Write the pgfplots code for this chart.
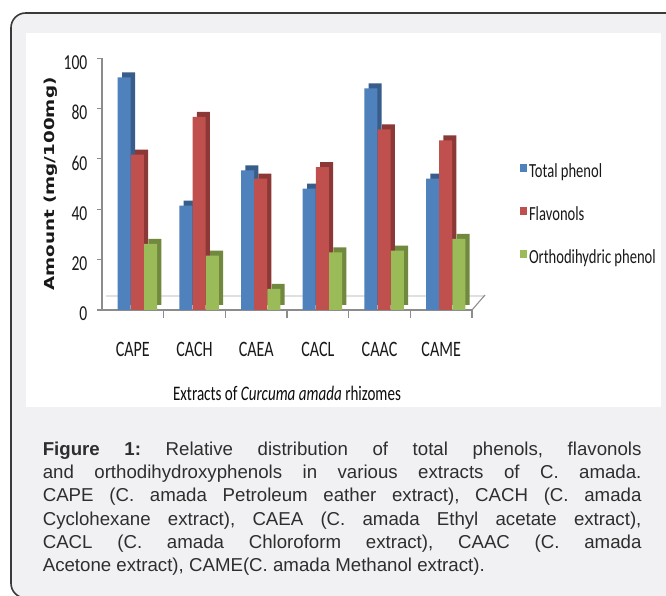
\documentclass[border=0pt]{standalone}
\usepackage{pgfplots}
\pgfplotsset{compat=1.18}
\usepackage{pgfplotstable}
\usepackage{graphicx}
\usepackage{fontspec}
\setmainfont{Liberation Sans}
\newfontfamily\cond[FakeStretch=0.73]{Carlito}
\newfontfamily\dvs{DejaVu Sans}

\definecolor{tpblue}{HTML}{4F81BD}
\definecolor{tpbluedk}{HTML}{385D8A}
\definecolor{flred}{HTML}{C0504D}
\definecolor{flreddk}{HTML}{8C3836}
\definecolor{odgreen}{HTML}{9BBB59}
\definecolor{odgreendk}{HTML}{71893F}
\definecolor{boxgray}{HTML}{F1F1F3}
\definecolor{boxline}{HTML}{3A3A3A}
\definecolor{axgray}{HTML}{8C8C8C}
\definecolor{captext}{HTML}{2E2E2E}

% values read off the front faces of the 3D columns
\pgfplotstableread{
x  tp    fl    od
0  92.4  61.7  26.3
1  41.5  76.7  21.6
2  55.5  52.2  8.4
3  48.2  56.8  22.9
4  88.0  71.7  23.6
5  52.2  67.4  28.3
}\extracts

\begin{document}
\begin{tikzpicture}
\useasboundingbox (0,0) rectangle (499.5pt,446.25pt);
\fill[white] (0,0) rectangle (499.5pt,446.25pt);

% frame, white chart area and the floor of the 3D chart (pixel units, y down)
\begin{scope}[x=0.75pt, y=-0.75pt, shift={(0pt,446.25pt)}]
  \filldraw[fill=boxgray, draw=boxline, line width=1.2pt, rounded corners=11pt]
    (11,13) rectangle (720,598);
  \fill[white] (26,33) rectangle (661,407);
  \draw[black!12, line width=0.8pt] (106,296) -- (485,296);
  \draw[axgray, line width=0.8pt] (472,310) -- (485,295);
\end{scope}

\begin{axis}[
  at={(76.5pt,213.75pt)}, anchor=south west,
  scale only axis, width=277.5pt, height=188.8pt,
  xmin=-0.5, xmax=5.5, ymin=0, ymax=100,
  ybar, bar width=9.75pt,
  axis lines*=left,
  axis line style={axgray, line width=0.8pt},
  tick style={axgray, line width=0.8pt},
  tick align=outside,
  major tick length=3.5pt,
  xtick={0,...,5},
  xticklabels={CAPE,CACH,CAEA,CACL,CAAC,CAME},
  major x tick style={draw=none},
  extra x ticks={0.5,1.5,2.5,3.5,4.5,5.5},
  extra x tick labels={},
  extra x tick style={major tick length=6pt, major x tick style={draw=axgray}},
  ytick={0,20,...,100},
  /pgf/number format/assume math mode=true,
  xticklabel style={font=\cond\fontsize{16.5}{18}\selectfont, text=black!90, anchor=center, yshift=-26pt},
  yticklabel style={font=\cond\fontsize{16}{18}\selectfont, text=black!90, anchor=east, yshift=-3pt, xshift=-4pt},
  xlabel={Extracts of \textit{Curcuma amada} rhizomes},
  xlabel style={font=\cond\fontsize{15.5}{18}\selectfont, text=black!95, at={(axis description cs:0.5,-0.33)}, anchor=center},
  ylabel={\dvs\bfseries\scalebox{1}[0.75]{Amount (mg/100mg)}},
  ylabel style={font=\fontsize{13.75}{15}\selectfont, text=black!90, at={(axis description cs:-0.138,0.5)}, anchor=center},
  legend style={at={(1.13,0.377)}, anchor=west, draw=none, fill=none, inner sep=0pt,
    font=\cond\fontsize{15}{16}\selectfont, text=black!90, row sep=15.25pt,
    nodes={text height=11pt, text depth=3pt, inner sep=1.5pt}},
  legend cell align=left,
  legend image code/.code={\fill[#1] (0pt,0pt) rectangle (5pt,6pt);},
]
  \addplot[forget plot, draw=none, fill=tpbluedk, bar shift=-6.45pt, xshift=3.2pt, yshift=3.75pt] table[x=x, y=tp] {\extracts};
  \addplot[draw=none, fill=tpblue, bar shift=-6.45pt] table[x=x, y=tp] {\extracts};
  \addplot[forget plot, draw=none, fill=flreddk, bar shift=3.4pt, xshift=3.2pt, yshift=3.75pt] table[x=x, y=fl] {\extracts};
  \addplot[draw=none, fill=flred, bar shift=3.4pt] table[x=x, y=fl] {\extracts};
  \addplot[forget plot, draw=none, fill=odgreendk, bar shift=13.35pt, xshift=3.2pt, yshift=3.75pt] table[x=x, y=od] {\extracts};
  \addplot[draw=none, fill=odgreen, bar shift=13.35pt] table[x=x, y=od] {\extracts};
  \legend{Total phenol, Flavonols, Orthodihydric phenol}
\end{axis}

\node[anchor=north west, inner sep=0pt, text width=449pt, align=justify,
      font=\fontsize{14}{17.5}\selectfont, text=captext] at (31.9pt,115.2pt)
  {\frenchspacing\tolerance=10000\hbadness=10000
   \textbf{Figure 1:} Relative distribution of total phenols, flavonols\linebreak
   and orthodihydroxyphenols in various extracts of C. amada.\linebreak
   CAPE (C. amada Petroleum eather extract), CACH (C. amada\linebreak
   Cyclohexane extract), CAEA (C. amada Ethyl acetate extract),\linebreak
   CACL (C. amada Chloroform extract), CAAC (C. amada\linebreak
   Acetone extract), CAME(C. amada Methanol extract).};
\end{tikzpicture}
\end{document}
